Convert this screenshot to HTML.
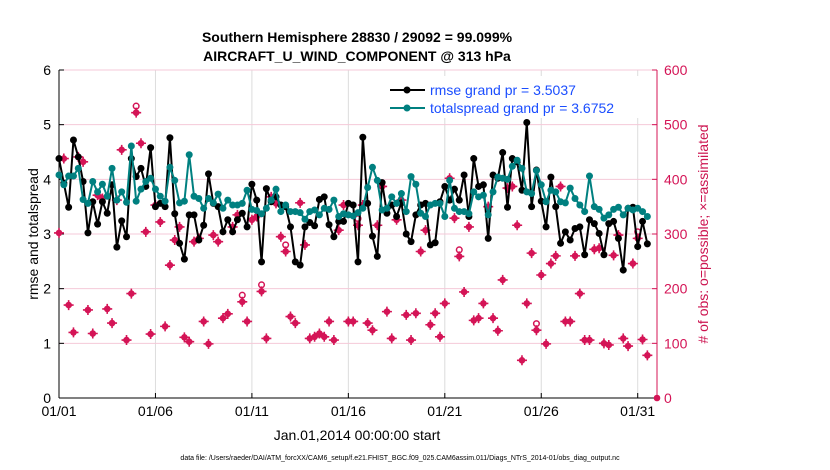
<!DOCTYPE html>
<html><head><meta charset="utf-8"><style>
body{margin:0;background:#fff;}
svg{display:block;font-family:"Liberation Sans",sans-serif;}
</style></head><body>
<svg id="chart" width="830" height="470" viewBox="0 0 830 470" xmlns="http://www.w3.org/2000/svg">
<rect width="830" height="470" fill="#fff"/>
<text x="357" y="42" text-anchor="middle" font-size="14" font-weight="bold">Southern Hemisphere 28830 / 29092 = 99.099%</text>
<text x="357" y="61" text-anchor="middle" font-size="14" font-weight="bold">AIRCRAFT_U_WIND_COMPONENT @ 313 hPa</text>
<g id="grid"></g>
<g id="axes"></g>
<g id="marks"></g>
<g id="legend">
<rect x="383" y="76" width="272" height="42" fill="#fff"/>
<line x1="390" y1="90" x2="425" y2="90" stroke="#000" stroke-width="2"/><circle cx="407" cy="90" r="3.5" fill="#000"/>
<text x="430" y="95" font-size="14" fill="#1a4dff">rmse grand pr = 3.5037</text>
<line x1="390" y1="108" x2="425" y2="108" stroke="#008080" stroke-width="2"/><circle cx="407" cy="108" r="3.5" fill="#008080"/>
<text x="430" y="113" font-size="14" fill="#1a4dff">totalspread grand pr = 3.6752</text>
</g>
<text transform="translate(38,234) rotate(-90)" text-anchor="middle" font-size="14">rmse and totalspread</text>
<text transform="translate(708,234) rotate(-90)" text-anchor="middle" font-size="14" fill="#cc1450"># of obs: o=possible; ×=assimilated</text>
<text x="357" y="440" text-anchor="middle" font-size="14">Jan.01,2014 00:00:00 start</text>
<text x="400" y="460" text-anchor="middle" font-size="7">data file: /Users/raeder/DAI/ATM_forcXX/CAM6_setup/f.e21.FHIST_BGC.f09_025.CAM6assim.011/Diags_NTrS_2014-01/obs_diag_output.nc</text>
</svg>
<script>
const xTickLabels=["01/01","01/06","01/11","01/16","01/21","01/26","01/31"];
const xTickDays=[0,5,10,15,20,25,30];
const yLeftTicks=[0,1,2,3,4,5,6];
const yRightTicks=[0,100,200,300,400,500,600];
const rmse=[4.38,3.93,3.49,4.72,4.41,3.96,3.02,3.59,3.18,3.59,3.38,3.90,2.76,3.24,2.95,4.38,4.05,4.20,3.87,4.58,3.50,3.56,3.50,4.76,3.37,2.83,2.54,3.35,3.35,2.89,3.16,4.10,3.56,3.50,3.04,3.26,3.04,3.26,3.38,3.13,3.91,3.62,2.49,3.83,
3.59,3.68,3.53,3.50,3.13,2.49,2.43,3.13,3.21,3.15,3.63,3.68,3.17,2.95,3.23,3.23,3.56,3.53,2.49,4.77,3.56,2.96,2.59,3.94,3.38,3.53,3.32,3.57,3.00,2.86,3.35,3.53,3.56,2.80,2.84,3.59,3.87,3.62,3.82,3.62,4.08,
3.32,4.38,3.87,3.90,2.92,4.08,4.02,4.49,3.49,4.38,4.32,3.80,5.04,3.50,4.17,3.60,3.13,4.04,3.50,2.83,3.04,2.89,3.10,3.13,2.62,3.26,3.19,3.01,2.62,3.19,3.23,2.92,2.34,3.47,3.49,2.77,3.23,2.82];
const spread=[4.08,3.90,4.06,4.06,4.20,3.63,3.56,3.96,3.77,3.91,3.69,4.20,3.62,3.77,3.58,4.61,3.60,3.82,3.96,4.02,3.82,3.69,3.60,4.22,3.98,3.57,3.60,4.45,3.69,3.65,3.47,3.65,3.57,3.73,3.47,3.62,3.53,3.53,3.56,3.80,3.45,3.43,3.37,3.47,
3.62,3.82,3.41,3.53,3.41,3.41,3.39,3.27,3.41,3.44,3.35,3.47,3.45,3.62,3.32,3.37,3.35,3.33,3.39,3.47,3.85,4.22,3.98,3.44,3.47,3.68,3.56,3.74,3.41,4.05,3.91,3.38,3.32,3.53,3.56,3.56,3.32,3.98,3.47,3.41,3.41,
3.37,3.77,3.68,3.71,3.35,3.77,4.04,4.02,4.00,4.24,4.35,4.20,3.77,3.74,4.16,3.90,3.59,3.80,3.77,3.59,3.57,3.84,3.65,3.53,3.41,4.06,3.50,3.45,3.29,3.35,3.45,3.49,3.35,3.47,3.44,3.47,3.41,3.32];
const nAssim=[302,438,170,120,441,432,161,118,371,365,163,137,362,454,106,191,522,466,304,117,353,322,131,243,289,313,111,103,286,292,140,99,298,286,146,154,313,335,176,140,326,332,195,109,
368,356,295,268,149,137,357,280,109,112,118,112,140,106,307,353,140,140,316,353,137,124,316,387,158,109,326,362,152,106,155,268,307,134,155,112,173,402,329,259,194,
313,142,146,173,350,146,123,216,384,387,316,69,173,265,124,225,99,246,260,387,140,140,260,191,106,106,272,274,100,97,261,298,109,95,246,292,107,78];
const nPossible=nAssim.map((v,i)=>v+([16,38,42,47,62,83,99,120].includes(i)?12:0));
const X0=59,X1=657,Y0=398,Y1=70,DAYS=31;
const xs=d=>X0+(d/DAYS)*(X1-X0);
const yl=v=>Y0-(v/6)*(Y0-Y1);
const yr=n=>Y0-(n/600)*(Y0-Y1);
const NS="http://www.w3.org/2000/svg";
function mk(tag,attrs,parent){const e=document.createElementNS(NS,tag);for(const k in attrs)e.setAttribute(k,attrs[k]);parent.appendChild(e);return e;}
const grid=document.getElementById('grid'),axes=document.getElementById('axes'),marks=document.getElementById('marks');
const RED="#d41456";
xTickDays.forEach((d,i)=>{
  const g=mk('line',{x1:xs(d),x2:xs(d),y1:Y1,y2:Y0,stroke:'#dcdcdc','stroke-width':1},grid);
  
  
  const t=mk('line',{x1:xs(d),x2:xs(d),y1:Y0,y2:Y0-5,stroke:'#000'},axes);
  
  
  const l=mk('text',{x:xs(d),y:Y0+18,'text-anchor':'middle','font-size':14},axes);
  l.textContent=xTickLabels[i];
  
  
});
yRightTicks.forEach(n=>{
  const g=mk('line',{x1:X0,x2:X1,y1:yr(n),y2:yr(n),stroke:'#f4c9d8','stroke-width':1},grid);
  
  
  const t=mk('line',{x1:X1-5,x2:X1,y1:yr(n),y2:yr(n),stroke:RED},axes);
  
  
  const l=mk('text',{x:X1+7,y:yr(n)+5,'font-size':14,fill:RED},axes);
  l.textContent=n;
  
  
});
yLeftTicks.forEach(v=>{
  const t=mk('line',{x1:X0,x2:X0+5,y1:yl(v),y2:yl(v),stroke:'#000'},axes);
  
  
  const l=mk('text',{x:X0-8,y:yl(v)+5,'text-anchor':'end','font-size':14},axes);
  l.textContent=v;
  
  
});
const la=mk('line',{x1:X0,x2:X0,y1:Y1,y2:Y0,stroke:'#000'},axes);


const ba=mk('line',{x1:X0,x2:X1,y1:Y0,y2:Y0,stroke:'#000'},axes);


const ra=mk('line',{x1:X1,x2:X1,y1:Y1,y2:Y0,stroke:RED},axes);


const tOf=i=>i*0.25;
// obs counts
nPossible.forEach((n,i)=>{
  if(n!==nAssim[i]){
    const c=mk('circle',{cx:xs(tOf(i)),cy:yr(n),r:2.8,fill:'none',stroke:RED,'stroke-width':1.5},marks);
    
    
  }
});
nAssim.forEach((n,i)=>{
  const x=xs(tOf(i)),y=yr(n);
  const g=mk('g',{},marks);
  
  
  mk('circle',{cx:x,cy:y,r:3.3,fill:RED},g);
  mk('path',{d:`M${x-5} ${y}H${x+5}M${x} ${y-5}V${y+5}`,stroke:RED,'stroke-width':1.6},g);
});
const z=mk('circle',{cx:X1,cy:yr(0),r:3.3,fill:RED},marks);


function series(arr,color,name){
  const p=mk('polyline',{points:arr.map((v,i)=>xs(tOf(i))+','+yl(v)).join(' '),fill:'none',stroke:color,'stroke-width':2},marks);
  
  
  arr.forEach((v,i)=>{
    const c=mk('circle',{cx:xs(tOf(i)),cy:yl(v),r:3.5,fill:color},marks);
    
    
  });
}
series(rmse,'#000','rmse');
series(spread,'#008080','totalspread');
marks.parentNode.appendChild(document.getElementById('legend'));
</script>
</body></html>
